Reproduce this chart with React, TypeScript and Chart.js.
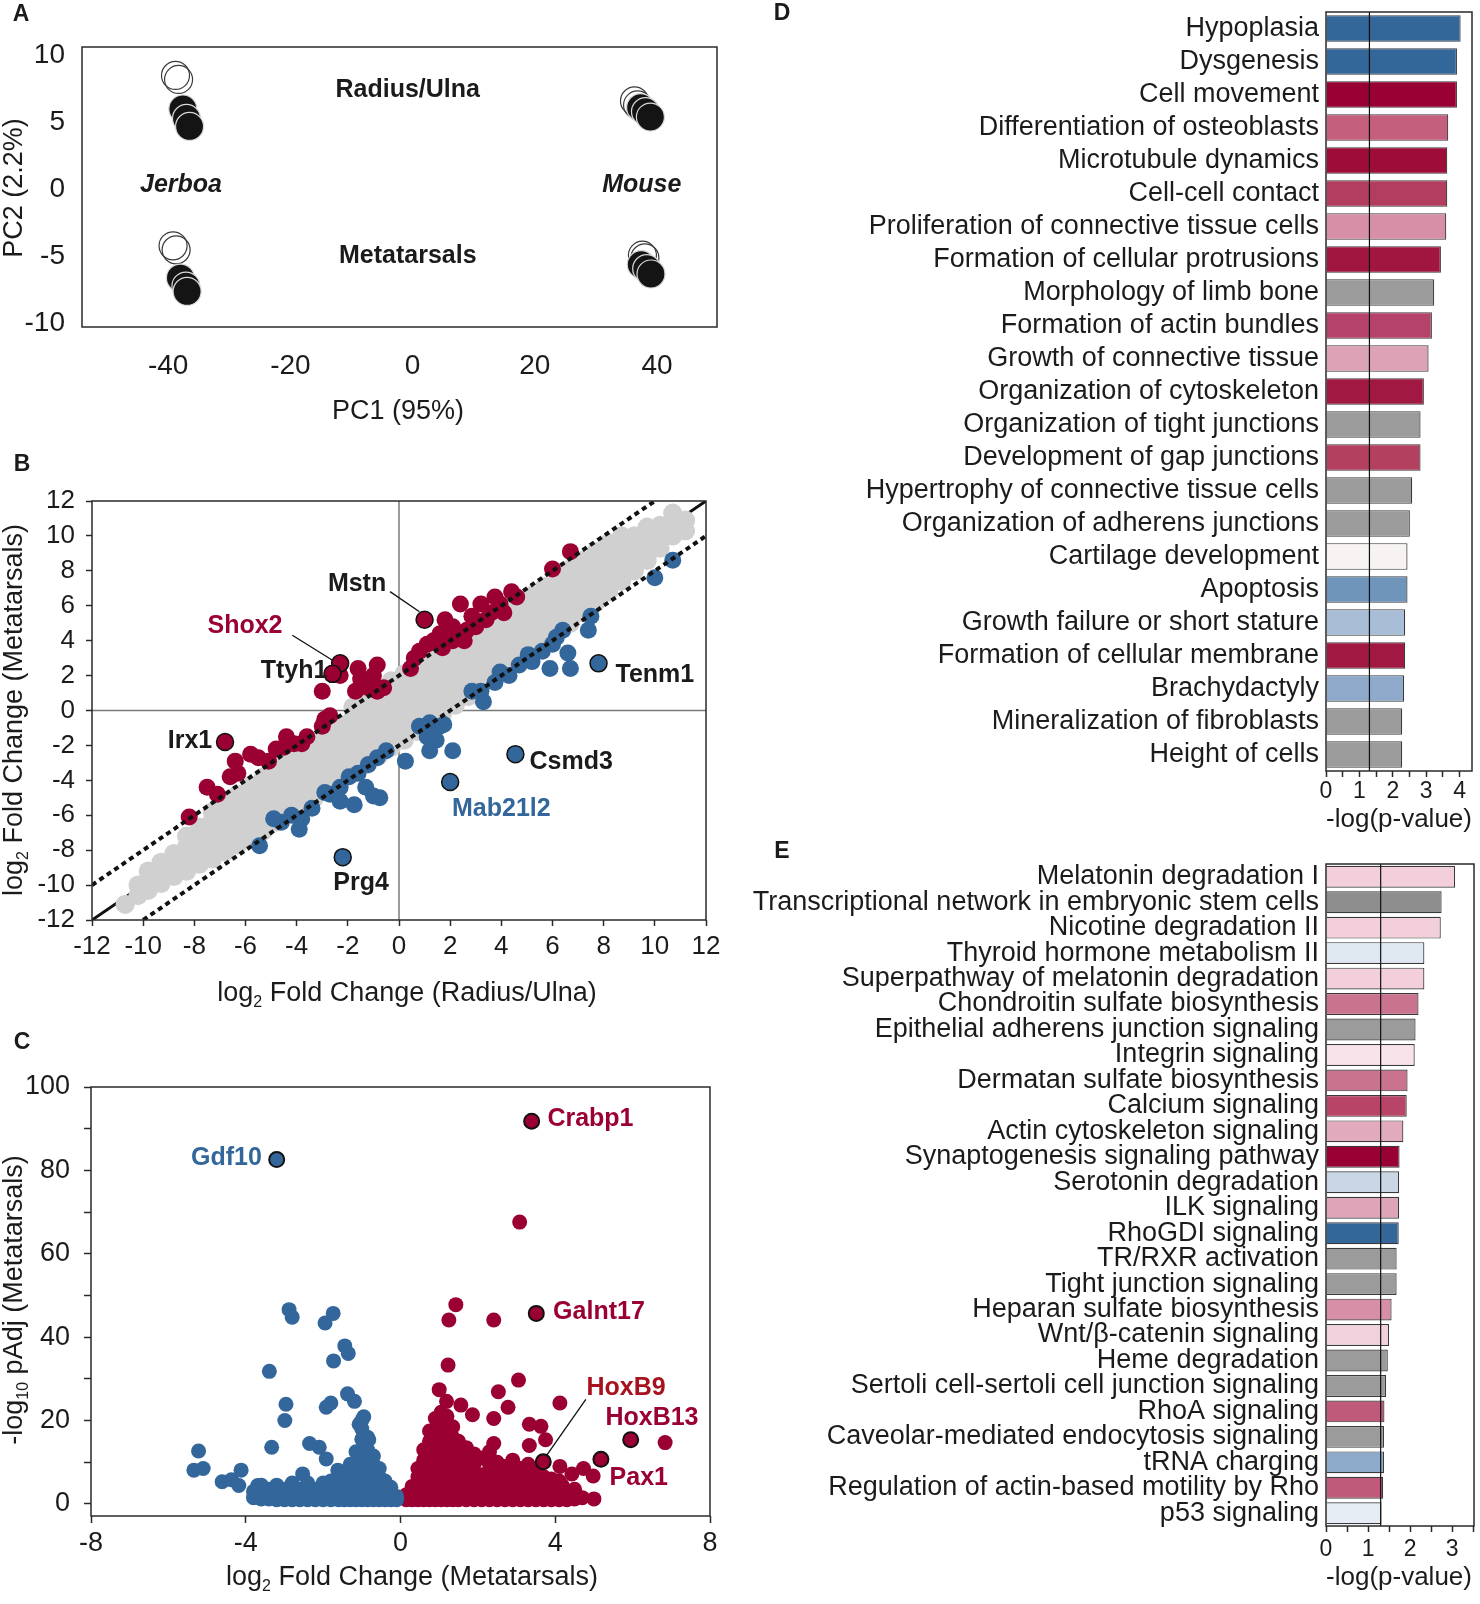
import React, { useEffect, useRef } from 'react';
import { Chart, registerables } from 'chart.js';

Chart.register(...registerables);

// ---------------- Panel A : PCA ----------------
const pcaOpen = [
  [-38.8, 8.5], [-38.3, 8.2],
  [36.3, 6.6], [36.8, 6.3],
  [-39.2, -4.2], [-38.7, -4.5],
  [37.6, -4.9], [38.0, -5.1],
];
const pcaFilled = [
  [-37.6, 6.0], [-37.0, 5.3], [-36.5, 4.7],
  [37.3, 6.1], [38.1, 5.8], [38.9, 5.4],
  [-38.0, -6.6], [-37.1, -7.2], [-36.9, -7.6],
  [37.4, -5.6], [38.3, -5.9], [39.0, -6.3],
];
const pcaTicksX = [-40, -20, 0, 20, 40];
const pcaTicksY = [-10, -5, 0, 5, 10];
const pcaTexts = [
  { text: 'Radius/Ulna', x: -0.8, y: 7.4, italic: false },
  { text: 'Jerboa', x: -37.9, y: 0.3, italic: true },
  { text: 'Mouse', x: 37.5, y: 0.3, italic: true },
  { text: 'Metatarsals', x: -0.8, y: -5.0, italic: false },
];

// ---------------- Panel B : log2FC vs log2FC ----------------
const bTicks = [-12, -10, -8, -6, -4, -2, 0, 2, 4, 6, 8, 10, 12];
const bGrayCols: [number, number[]][] = [
  [-10.7, [-11.1]],
  [-10.2, [-10.6, -10.0]],
  [-9.8, [-10.3, -9.7, -9.2]],
  [-9.3, [-9.9, -9.3, -8.7]],
  [-8.8, [-9.5, -8.9, -8.2]],
  [-8.3, [-9.2, -8.5, -7.8, -7.2]],
  [-7.8, [-8.8, -8.1, -7.4, -6.7]],
  [-7.3, [-8.5, -7.8, -7.0, -6.3, -5.8]],
  [-6.8, [-8.1, -7.4, -6.6, -5.9, -5.3]],
  [-6.3, [-7.7, -7.0, -6.2, -5.5, -4.8]],
  [-5.8, [-7.3, -6.6, -5.8, -5.0, -4.3]],
  [-5.3, [-6.9, -6.1, -5.3, -4.5, -3.8]],
  [-4.8, [-6.4, -5.6, -4.8, -4.0, -3.3]],
  [-4.3, [-5.9, -5.1, -4.3, -3.5, -2.8]],
  [-3.8, [-5.4, -4.6, -3.8, -3.0, -2.3]],
  [-3.3, [-5.0, -4.2, -3.4, -2.6, -1.8]],
  [-2.8, [-4.5, -3.7, -2.9, -2.1, -1.3]],
  [-2.3, [-4.0, -3.2, -2.4, -1.6, -0.8]],
  [-1.8, [-3.6, -2.8, -2.0, -1.2, -0.4, 0.2]],
  [-1.3, [-3.1, -2.3, -1.5, -0.7, 0.1, 0.7]],
  [-0.8, [-2.6, -1.8, -1.0, -0.2, 0.6, 1.2]],
  [-0.3, [-2.1, -1.3, -0.5, 0.3, 1.1, 1.7]],
  [0.2, [-1.7, -0.9, -0.1, 0.7, 1.5, 2.1]],
  [0.7, [-1.2, -0.4, 0.4, 1.2, 2.0, 2.5]],
  [1.2, [-0.7, 0.1, 0.9, 1.7, 2.5, 3.0]],
  [1.7, [-0.2, 0.6, 1.4, 2.2, 3.0, 3.5]],
  [2.2, [0.3, 1.1, 1.9, 2.7, 3.5, 4.0]],
  [2.7, [0.8, 1.6, 2.4, 3.2, 4.0, 4.5]],
  [3.2, [1.3, 2.1, 2.9, 3.7, 4.5, 5.0]],
  [3.7, [1.8, 2.6, 3.4, 4.2, 5.0, 5.5]],
  [4.2, [2.4, 3.2, 4.0, 4.8, 5.6]],
  [4.7, [2.9, 3.7, 4.5, 5.3, 6.1]],
  [5.2, [3.4, 4.2, 5.0, 5.8, 6.6]],
  [5.7, [3.9, 4.7, 5.5, 6.3, 7.1]],
  [6.2, [4.5, 5.3, 6.1, 6.9, 7.6]],
  [6.7, [5.0, 5.8, 6.6, 7.4, 8.1]],
  [7.2, [5.6, 6.4, 7.2, 8.0, 8.6]],
  [7.7, [6.2, 7.0, 7.8, 8.5, 9.1]],
  [8.2, [6.8, 7.6, 8.3, 9.0, 9.6]],
  [8.7, [7.4, 8.1, 8.8, 9.5, 10.0]],
  [9.2, [8.0, 8.7, 9.4, 10.0]],
  [9.7, [8.6, 9.3, 10.0, 10.5]],
  [10.2, [9.3, 10.0, 10.6]],
  [10.7, [10.0, 10.7, 11.3]],
  [11.2, [10.3, 10.9]],
];
const bRed = [
  [-8.2, -6.1], [-7.5, -4.4], [-7.1, -4.8], [-6.6, -3.8], [-6.4, -2.9], [-6.3, -3.6], [-5.8, -2.5],
  [-5.5, -2.7], [-5.1, -2.9], [-4.8, -2.2], [-4.5, -2.1], [-4.4, -1.5], [-4.1, -1.9], [-3.8, -1.9],
  [-3.6, -1.5], [-3.0, -0.9], [-2.9, -0.5], [-2.7, -0.3], [-3.0, 1.1], [-2.3, 2.0], [-1.6, 2.4],
  [-1.5, 1.8], [-1.7, 1.1], [-1.2, 1.3], [-1.0, 2.0], [-0.85, 2.6], [-0.85, 1.1], [-0.6, 1.3],
  [0.45, 2.4], [0.6, 3.0], [0.8, 3.4], [1.1, 3.8], [1.35, 4.0], [1.6, 4.4], [1.7, 3.6], [1.8, 5.2],
  [1.9, 4.4], [2.1, 4.8], [2.1, 4.0], [2.4, 6.1], [2.55, 4.0], [2.65, 4.6], [2.85, 5.4], [3.0, 4.8],
  [3.2, 6.1], [3.4, 5.2], [3.6, 5.6], [3.75, 6.5], [3.95, 6.1], [4.1, 5.6], [4.4, 6.8], [4.6, 6.5],
  [6.0, 8.1], [6.7, 9.1],
];
const bBlue = [
  [10.7, 8.6], [10.0, 7.6], [7.5, 5.4], [7.4, 4.6], [6.7, 2.4], [6.6, 3.3], [6.4, 4.6], [6.15, 4.2],
  [6.0, 3.8], [5.9, 2.4], [5.6, 3.4], [5.2, 2.8], [5.05, 3.2], [4.7, 2.6], [4.3, 2.0], [3.95, 2.2],
  [3.75, 1.6], [3.3, 0.5], [3.2, 1.1], [2.85, 1.1],
  [1.2, -0.7], [0.8, -0.9], [1.6, -0.9], [1.75, -0.8], [1.1, -1.5], [1.45, -1.7], [1.2, -2.3],
  [2.1, -2.3], [0.25, -2.9],
  [-0.5, -2.3], [-0.85, -2.7], [-1.2, -3.1], [-1.6, -3.6], [-1.95, -3.8], [-2.3, -4.4], [-2.7, -4.8],
  [-2.9, -4.7], [-2.3, -5.2], [-1.75, -5.4], [-1.0, -4.9], [-0.75, -5.0], [-1.3, -4.4], [-3.4, -5.6],
  [-3.8, -6.2], [-3.9, -6.8], [-4.2, -6.0], [-4.6, -6.4], [-4.9, -6.2], [-5.45, -7.75],
];
const bKeyGenes = [
  { name: 'Mstn', x: 1.0, y: 5.2, up: true },
  { name: 'Shox2', x: -2.3, y: 2.7, up: true },
  { name: 'Ttyh1', x: -2.6, y: 2.1, up: true },
  { name: 'Irx1', x: -6.8, y: -1.8, up: true },
  { name: 'Tenm1', x: 7.8, y: 2.7, up: false },
  { name: 'Csmd3', x: 4.55, y: -2.5, up: false },
  { name: 'Mab21l2', x: 2.0, y: -4.1, up: false },
  { name: 'Prg4', x: -2.2, y: -8.4, up: false },
];
const bTexts = [
  { text: 'Mstn', x: -1.64, y: 7.25, color: 'ink' },
  { text: 'Shox2', x: -6.02, y: 4.84, color: 'red' },
  { text: 'Ttyh1', x: -4.1, y: 2.26, color: 'ink' },
  { text: 'Tenm1', x: 10.0, y: 2.03, color: 'ink' },
  { text: 'Irx1', x: -8.17, y: -1.75, color: 'ink' },
  { text: 'Csmd3', x: 6.73, y: -2.95, color: 'ink' },
  { text: 'Mab21l2', x: 4.0, y: -5.64, color: 'blue' },
  { text: 'Prg4', x: -1.48, y: -9.88, color: 'ink' },
];
const bDiag = [[-12, -12], [12, 12]];
const bUpper = [[-12, -10], [10, 12]];
const bLower = [[-10, -12], [12, 10]];
const bZeroV = [[0, -12], [0, 12]];
const bZeroH = [[-12, 0], [12, 0]];
const bLeaderMstn = [[-0.35, 6.81], [0.8, 5.66]];
const bLeaderShox2 = [[-4.17, 4.31], [-2.6, 2.88]];

// ---------------- Panel C : volcano ----------------
const cTicksX = [-8, -4, 0, 4, 8];
const cTicksY = [0, 10, 20, 30, 40, 50, 60, 70, 80, 90, 100];
const cBlueCols: [number, number[]][] = [
  [-0.1, [1, 1.8]],
  [-0.25, [1, 2.5, 4]],
  [-0.4, [1, 3, 5.5]],
  [-0.55, [1, 3.5, 6.5, 8.5]],
  [-0.7, [1, 3.5, 6.5, 9.5, 11.5]],
  [-0.85, [1, 4, 7, 10, 13, 16]],
  [-1.0, [1, 3.5, 6.5, 9.5, 12.5, 15.5, 18, 20]],
  [-1.15, [1, 4, 7, 10, 12.5]],
  [-1.3, [1, 3.5, 6.5, 9.5]],
  [-1.45, [1, 4, 7]],
  [-1.6, [1, 3.5, 6]],
  [-1.8, [1, 3.5, 5.5]],
  [-2.0, [1, 3.2, 5]],
  [-2.2, [1, 3.5]],
  [-2.4, [1, 3, 5]],
  [-2.6, [1, 3.5]],
  [-2.8, [1, 3, 5]],
  [-3.0, [1, 3.5]],
  [-3.2, [1, 3, 4.5]],
  [-3.4, [1.2, 3.5]],
  [-3.6, [1.2, 2.8, 4.5]],
  [-3.8, [1.5, 3]],
];
const cBlueOut = [
  [-2.88, 46.6], [-2.8, 44.8], [-1.74, 45.7], [-1.95, 43.4], [-1.44, 37.9], [-1.35, 36.1], [-1.73, 34.3],
  [-3.39, 31.8], [-2.96, 23.9], [-2.99, 20.0], [-1.92, 23.2], [-1.8, 24.2], [-1.37, 26.4], [-1.19, 24.6],
  [-0.95, 20.9], [-1.07, 19.1], [-3.33, 13.6], [-2.35, 14.5], [-2.1, 13.6], [-1.92, 10.8], [-5.22, 12.7],
  [-5.34, 8.1], [-5.1, 8.5], [-4.61, 5.3], [-4.37, 5.8], [-4.18, 4.4], [-4.12, 8.1], [-3.69, 4.4],
  [-2.53, 7.2], [-1.62, 8.1], [-0.89, 9.9], [-0.82, 15.4], [-0.95, 14.5],
];
const cRedCols: [number, number[]][] = [
  [0.15, [1, 2.2]],
  [0.3, [1, 2.5, 4.2]],
  [0.45, [1, 2.6, 4.5, 6.5, 8.5]],
  [0.6, [1, 3, 5.5, 8, 10.5, 13]],
  [0.75, [1, 3.5, 6, 9, 12, 15, 17.5]],
  [0.9, [1, 3, 5.5, 8.5, 11.5, 14.5, 17.5, 20.5]],
  [1.05, [1, 4, 7, 10, 13, 16, 19, 22]],
  [1.2, [1, 3.5, 6.5, 9.5, 12.5, 15.5, 18.5, 21]],
  [1.35, [1, 4, 7, 10, 13, 16, 18.5]],
  [1.5, [1, 3.5, 6.5, 9.5, 12.5, 15]],
  [1.7, [1, 4, 7, 10, 13.5]],
  [1.9, [1, 3.5, 6.5, 9.5, 12]],
  [2.1, [1, 4, 7, 11]],
  [2.3, [1, 3.5, 6.5, 9.5, 12.5]],
  [2.5, [1, 4, 7, 10]],
  [2.7, [1, 3.5, 6.5, 9]],
  [2.9, [1, 4, 7, 10.5]],
  [3.1, [1, 3.5, 6, 8.5]],
  [3.3, [1, 4, 7, 9.5]],
  [3.5, [1, 3.5, 6, 8]],
  [3.7, [1, 4, 6.5]],
  [3.9, [1, 3.5, 6]],
  [4.1, [1, 3.5, 5.5]],
  [4.3, [1, 3]],
  [4.5, [1.2, 3.5]],
  [4.7, [1.5]],
  [5.0, [1.2]],
];
const cRedOut = [
  [3.08, 67.6], [1.43, 47.8], [1.25, 44.1], [2.41, 44.1], [1.23, 33.3], [3.05, 29.7], [1.0, 27.4],
  [1.19, 24.6], [1.56, 23.7], [2.53, 26.9], [2.78, 23.2], [4.12, 24.2], [1.86, 21.4], [2.41, 20.5],
  [3.33, 19.1], [3.63, 18.6], [3.75, 15.4], [3.33, 14.0], [2.41, 14.5], [6.84, 14.7], [4.73, 8.5],
  [4.98, 6.7], [4.12, 9.0], [4.43, 7.2], [4.18, 4.4],
];
const cKeyGenes = [
  { name: 'Gdf10', x: -3.2, y: 82.6, up: false },
  { name: 'Crabp1', x: 3.39, y: 91.8, up: true },
  { name: 'Galnt17', x: 3.51, y: 45.7, up: true },
  { name: 'HoxB9', x: 3.69, y: 10.1, up: true },
  { name: 'Pax1', x: 5.18, y: 10.7, up: true },
  { name: 'HoxB13', x: 5.95, y: 15.4, up: true },
];
const cTexts = [
  { text: 'Gdf10', x: -4.5, y: 83.0, color: 'blue' },
  { text: 'Crabp1', x: 4.91, y: 92.3, color: 'red' },
  { text: 'Galnt17', x: 5.13, y: 45.9, color: 'red' },
  { text: 'HoxB9', x: 5.83, y: 27.8, color: 'red2' },
  { text: 'HoxB13', x: 6.5, y: 20.5, color: 'red' },
  { text: 'Pax1', x: 6.16, y: 6.2, color: 'red' },
];
const cLeaderHoxB9 = [[4.79, 25.1], [3.75, 11.3]];

// ---------------- Panel D : functions ----------------
const dLabels = [
  'Hypoplasia', 'Dysgenesis', 'Cell movement', 'Differentiation of osteoblasts', 'Microtubule dynamics',
  'Cell-cell contact', 'Proliferation of connective tissue cells', 'Formation of cellular protrusions',
  'Morphology of limb bone', 'Formation of actin bundles', 'Growth of connective tissue',
  'Organization of cytoskeleton', 'Organization of tight junctions', 'Development of gap junctions',
  'Hypertrophy of connective tissue cells', 'Organization of adherens junctions', 'Cartilage development',
  'Apoptosis', 'Growth failure or short stature', 'Formation of cellular membrane', 'Brachydactyly',
  'Mineralization of fibroblasts', 'Height of cells',
];
const dValues = [4.03, 3.92, 3.92, 3.66, 3.63, 3.63, 3.6, 3.44, 3.24, 3.17, 3.07, 2.93, 2.83, 2.83, 2.58, 2.51, 2.44, 2.44, 2.37, 2.37, 2.34, 2.28, 2.28];
const dColors = [
  '#336699', '#336699', '#990033', '#c4607e', '#9e0d3a', '#b23d5f', '#d68fa6', '#a01640', '#9b9b9b',
  '#b5426a', '#dba3b5', '#a11842', '#9b9b9b', '#b3405f', '#9b9b9b', '#9b9b9b', '#f7f3f3', '#7095bb',
  '#a8bdd6', '#a11842', '#8ea9ca', '#9b9b9b', '#9b9b9b',
];
const dTicks = [0, 0.5, 1, 1.5, 2, 2.5, 3, 3.5, 4];

// ---------------- Panel E : pathways ----------------
const eLabels = [
  'Melatonin degradation I', 'Transcriptional network in embryonic stem cells', 'Nicotine degradation II',
  'Thyroid hormone metabolism II', 'Superpathway of melatonin degradation', 'Chondroitin sulfate biosynthesis',
  'Epithelial adherens junction signaling', 'Integrin signaling', 'Dermatan sulfate biosynthesis',
  'Calcium signaling', 'Actin cytoskeleton signaling', 'Synaptogenesis signaling pathway',
  'Serotonin degradation', 'ILK signaling', 'RhoGDI signaling', 'TR/RXR activation', 'Tight junction signaling',
  'Heparan sulfate biosynthesis', 'Wnt/β-catenin signaling', 'Heme degradation',
  'Sertoli cell-sertoli cell junction signaling', 'RhoA signaling', 'Caveolar-mediated endocytosis signaling',
  'tRNA charging', 'Regulation of actin-based motility by Rho', 'p53 signaling',
];
const eValues = [3.07, 2.75, 2.73, 2.34, 2.34, 2.2, 2.13, 2.11, 1.94, 1.92, 1.84, 1.75, 1.74, 1.74, 1.73, 1.68, 1.68, 1.56, 1.5, 1.47, 1.43, 1.39, 1.38, 1.38, 1.36, 1.32];
const eColors = [
  '#f2cfdb', '#8e8e8e', '#f2cfdb', '#dfe7f1', '#f2cfdb', '#c9738f', '#9b9b9b', '#f8e3ea', '#c9738f',
  '#b84468', '#e2abbd', '#990033', '#c8d6e6', '#dea4b7', '#336699', '#9b9b9b', '#9b9b9b', '#d68fa6',
  '#f1d2dc', '#9b9b9b', '#9b9b9b', '#c05a7b', '#9b9b9b', '#8eaacb', '#c05a7b', '#e5ecf4',
];
const eTicks = [0, 0.5, 1, 1.5, 2, 2.5, 3, 3.5];
const pThreshold = 1.3;

// ---------------- styling ----------------
const INK = '#1b1b1b';
const RED = '#9b0033';
const RED2 = '#a8121f';
const BLUE = '#33669a';
const GRAY = '#d0d0d0';
const colorOf = (c: string) => (c === 'red' ? RED : c === 'red2' ? RED2 : c === 'blue' ? BLUE : INK);

function detectNarrow(): boolean {
  try {
    const ctx = document.createElement('canvas').getContext('2d');
    if (!ctx) return false;
    const s = 'Proliferation of connective tissue 0123456789';
    ctx.font = '40px monospace';
    const a = ctx.measureText(s).width;
    ctx.font = '40px "Liberation Sans Narrow", monospace';
    const b = ctx.measureText(s).width;
    return Math.abs(a - b) > 1;
  } catch (e) {
    return false;
  }
}
const NARROW = detectNarrow();
const FAM = NARROW
  ? '"Liberation Sans Narrow", "Liberation Sans", Arial, sans-serif'
  : '"Liberation Sans", Arial, sans-serif';
const S = (n: number) => (NARROW ? n : Math.round(n * 0.82));

Chart.defaults.font.family = FAM;
Chart.defaults.color = INK;

const toXY = (arr: number[][]) => arr.map(([x, y]) => ({ x, y }));
const colsToXY = (cols: [number, number[]][]) => cols.flatMap(([x, ys]) => ys.map((y) => ({ x, y })));

function drawRich(ctx: any, parts: any[], cx: number, cy: number, size: number, rot: boolean) {
  ctx.save();
  ctx.translate(cx, cy);
  if (rot) ctx.rotate(-Math.PI / 2);
  const main = `${size}px ${FAM}`;
  const sub = `${Math.round(size * 0.6)}px ${FAM}`;
  const widths = parts.map((p) => {
    ctx.font = p.sub ? sub : main;
    return ctx.measureText(p.t).width;
  });
  const total = widths.reduce((a: number, b: number) => a + b, 0);
  let x = -total / 2;
  ctx.textAlign = 'left';
  ctx.textBaseline = 'middle';
  ctx.fillStyle = INK;
  parts.forEach((p, i) => {
    ctx.font = p.sub ? sub : main;
    ctx.fillText(p.t, x, p.sub ? size * 0.32 : 0);
    x += widths[i];
  });
  ctx.restore();
}

function deco(o: any) {
  return {
    id: 'deco',
    afterDatasetsDraw(chart: any) {
      const { ctx, chartArea: ca, scales } = chart;
      if (o.vline !== undefined) {
        const px = scales.x.getPixelForValue(o.vline);
        ctx.save();
        ctx.strokeStyle = '#111';
        ctx.lineWidth = 1.2;
        ctx.beginPath();
        ctx.moveTo(px, ca.top);
        ctx.lineTo(px, ca.bottom);
        ctx.stroke();
        ctx.restore();
      }
      (o.texts || []).forEach((t: any) => {
        ctx.save();
        ctx.font = `${t.italic ? 'italic ' : ''}bold ${S(30)}px ${FAM}`;
        ctx.fillStyle = colorOf(t.color || 'ink');
        ctx.textAlign = 'center';
        ctx.textBaseline = 'middle';
        ctx.fillText(t.text, scales.x.getPixelForValue(t.x), scales.y.getPixelForValue(t.y));
        ctx.restore();
      });
    },
    afterDraw(chart: any) {
      const { ctx, chartArea: ca } = chart;
      ctx.save();
      ctx.strokeStyle = '#2a2a2a';
      ctx.lineWidth = 1.5;
      ctx.strokeRect(ca.left, ca.top, ca.right - ca.left, ca.bottom - ca.top);
      ctx.restore();
      (o.titles || []).forEach((t: any) => drawRich(ctx, t.parts, t.x, t.y, S(t.size), !!t.rot));
      if (o.letter) {
        ctx.save();
        ctx.font = 'bold 23px "Liberation Sans", Arial, sans-serif';
        ctx.fillStyle = INK;
        ctx.textAlign = 'center';
        ctx.textBaseline = 'middle';
        ctx.fillText(o.letter[0], o.letter[1], o.letter[2]);
        ctx.restore();
      }
    },
  };
}

function linScale(p: {
  axis: 'x' | 'y'; min: number; max: number; ticks: number[]; size: number; fit: number;
  tickLen: number; pad: number; label?: (v: number) => string;
}) {
  return {
    type: 'linear',
    min: p.min,
    max: p.max,
    afterBuildTicks: (s: any) => {
      s.ticks = p.ticks.map((v) => ({ value: v }));
    },
    ticks: {
      autoSkip: false,
      maxRotation: 0,
      minRotation: 0,
      padding: p.pad,
      color: INK,
      font: { size: S(p.size), family: FAM },
      callback: (v: any) => (p.label ? p.label(Number(v)) : String(v)),
    },
    grid: p.tickLen > 0
      ? { display: true, drawOnChartArea: false, drawTicks: true, tickLength: p.tickLen, tickColor: '#2a2a2a', tickWidth: 1.5, color: '#2a2a2a' }
      : { display: false, drawTicks: false, tickLength: 0 },
    border: { display: false },
    afterFit: (s: any) => {
      if (p.axis === 'x') s.height = p.fit;
      else s.width = p.fit;
      s.paddingLeft = 0; s.paddingRight = 0; s.paddingTop = 0; s.paddingBottom = 0;
    },
  };
}
// vertical offset of the label centre below the axis -> ticks.padding
const xPad = (offset: number, tl: number, size: number) => Math.round(offset - tl - S(size) * 0.6);

const base = (padding: any) => ({
  responsive: false,
  animation: false,
  events: [],
  layout: { padding },
  plugins: { legend: { display: false }, tooltip: { enabled: false } },
});

const lineDs = (pts: number[][], color: string, width: number, order: number, dash?: number[]) => ({
  data: toXY(pts), showLine: true, pointRadius: 0, pointHoverRadius: 0, borderColor: color,
  borderWidth: width, borderDash: dash || [], fill: false, order, borderCapStyle: 'butt',
});
const ptsDs = (data: any[], fill: any, r: number, order: number, border?: any, bw?: number) => ({
  data, pointRadius: r, pointHoverRadius: r, pointBackgroundColor: fill,
  pointBorderColor: border || 'rgba(0,0,0,0)', pointBorderWidth: bw || 0, order, showLine: false,
});

function makeA() {
  return {
    type: 'scatter',
    data: {
      datasets: [
        ptsDs(toXY(pcaOpen), 'rgba(255,255,255,0)', 14, 2, '#3a3a3a', 1.2),
        ptsDs(toXY(pcaFilled), '#141414', 14, 1, '#d9d9d9', 1.2),
      ],
    },
    options: {
      ...base({ left: 0, top: 47, right: 23, bottom: 0 }),
      scales: {
        x: linScale({ axis: 'x', min: -54.1, max: 49.8, ticks: pcaTicksX, size: 34, fit: 113, tickLen: 0, pad: xPad(39, 0, 34) }),
        y: linScale({ axis: 'y', min: -10.25, max: 10.62, ticks: pcaTicksY, size: 34, fit: 82, tickLen: 0, pad: 17 }),
      },
    },
    plugins: [deco({
      texts: pcaTexts,
      letter: ['A', 21, 15],
      titles: [
        { parts: [{ t: 'PC1 (95%)' }], x: 398, y: 412, size: 33 },
        { parts: [{ t: 'PC2 (2.2%)' }], x: 15, y: 188, size: 33, rot: true },
      ],
    })],
  };
}

function makeB() {
  const key = bKeyGenes.map((g) => ({ x: g.x, y: g.y }));
  const keyCol = bKeyGenes.map((g) => (g.up ? RED : BLUE));
  return {
    type: 'scatter',
    data: {
      datasets: [
        lineDs(bDiag, '#111', 3, 5),
        lineDs(bZeroV, '#7a7a7a', 1.5, 5),
        lineDs(bZeroH, '#7a7a7a', 1.5, 5),
        ptsDs(colsToXY(bGrayCols), GRAY, 9.6, 4),
        ptsDs(toXY(bRed), RED, 8.5, 3),
        ptsDs(toXY(bBlue), BLUE, 8.5, 3),
        lineDs(bUpper, '#111', 4, 1, [5, 4]),
        lineDs(bLower, '#111', 4, 1, [5, 4]),
        ptsDs(key, keyCol, 8.5, 0, '#111', 1.5),
        lineDs(bLeaderMstn, '#111', 1.3, 0),
        lineDs(bLeaderShox2, '#111', 1.3, 0),
      ],
    },
    options: {
      ...base({ left: 0, top: 61, right: 34, bottom: 0 }),
      scales: {
        x: linScale({ axis: 'x', min: -12, max: 12, ticks: bTicks, size: 32, fit: 100, tickLen: 6, pad: xPad(27, 6, 32) }),
        y: linScale({ axis: 'y', min: -12, max: 12, ticks: bTicks, size: 32, fit: 92, tickLen: 6, pad: 11 }),
      },
    },
    plugins: [deco({
      texts: bTexts,
      letter: ['B', 22, 25],
      titles: [
        { parts: [{ t: 'log' }, { t: '2', sub: true }, { t: ' Fold Change (Radius/Ulna)' }], x: 407, y: 554, size: 33 },
        { parts: [{ t: 'log' }, { t: '2', sub: true }, { t: ' Fold Change (Metatarsals)' }], x: 15, y: 270, size: 33, rot: true },
      ],
    })],
  };
}

function makeC() {
  const key = cKeyGenes.map((g) => ({ x: g.x, y: g.y }));
  const keyCol = cKeyGenes.map((g) => (g.up ? RED : BLUE));
  return {
    type: 'scatter',
    data: {
      datasets: [
        ptsDs(colsToXY(cBlueCols), BLUE, 7.5, 2),
        ptsDs(toXY(cBlueOut), BLUE, 7.5, 2),
        ptsDs(colsToXY(cRedCols), RED, 7.5, 2),
        ptsDs(toXY(cRedOut), RED, 7.5, 2),
        lineDs(cLeaderHoxB9, '#111', 1.3, 1),
        ptsDs(key, keyCol, 7.5, 0, '#111', 2),
      ],
    },
    options: {
      ...base({ left: 0, top: 67, right: 30, bottom: 0 }),
      scales: {
        x: linScale({ axis: 'x', min: -8, max: 8, ticks: cTicksX, size: 33, fit: 88, tickLen: 7, pad: xPad(27, 7, 33) }),
        y: linScale({
          axis: 'y', min: -2.9, max: 100, ticks: cTicksY, size: 33, fit: 91, tickLen: 7, pad: 14,
          label: (v) => (v % 20 === 0 ? String(v) : ''),
        }),
      },
    },
    plugins: [deco({
      texts: cTexts,
      letter: ['C', 22, 23],
      titles: [
        { parts: [{ t: 'log' }, { t: '2', sub: true }, { t: ' Fold Change (Metatarsals)' }], x: 412, y: 558, size: 33 },
        { parts: [{ t: '-log' }, { t: '10', sub: true }, { t: ' pAdj (Metatarsals)' }], x: 15, y: 280, size: 33, rot: true },
      ],
    })],
  };
}

// bar panels: canvas starts at page x 700, category axis 626 px wide -> plot starts at page x 1326
function makeBars(labels: string[], values: number[], colors: string[], p: any) {
  return {
    type: 'bar',
    data: {
      labels,
      datasets: [{
        data: values, backgroundColor: colors, borderColor: '#3a3a3a', borderWidth: 1.2,
        barPercentage: p.barPct, categoryPercentage: 1,
      }],
    },
    options: {
      ...base({ left: 0, top: p.top, right: p.right, bottom: 0 }),
      indexAxis: 'y',
      scales: {
        x: linScale({
          axis: 'x', min: 0, max: p.max, ticks: p.ticks, size: 28, fit: p.xFit, tickLen: 6, pad: xPad(p.labOff, 6, 28),
          label: (v) => (Number.isInteger(v) ? String(v) : ''),
        }),
        y: {
          type: 'category',
          ticks: { autoSkip: false, padding: 7, color: INK, font: { size: S(33.5), family: FAM } },
          grid: { display: false, drawTicks: false, tickLength: 0 },
          border: { display: false },
          afterFit: (s: any) => {
            s.width = 626;
            s.paddingLeft = 0; s.paddingRight = 0; s.paddingTop = 0; s.paddingBottom = 0;
          },
        },
      },
    },
    plugins: [deco({
      vline: pThreshold,
      letter: p.letter,
      titles: [{ parts: [{ t: '-log(p-value)' }], x: 699, y: p.titleY, size: 32 }],
    })],
  };
}

function Panel({ x, y, w, h, make }: { x: number; y: number; w: number; h: number; make: () => any }) {
  const ref = useRef<HTMLCanvasElement>(null);
  useEffect(() => {
    const chart = new Chart(ref.current as HTMLCanvasElement, make());
    return () => chart.destroy();
  }, []);
  return (
    <div style={{ position: 'absolute', left: x, top: y, width: w, height: h }}>
      <canvas ref={ref} width={w} height={h} style={{ width: w, height: h, display: 'block' }} />
    </div>
  );
}

export default function App() {
  return (
    <div style={{ position: 'absolute', left: 0, top: 0, width: 1480, height: 1604, background: '#fff', overflow: 'hidden' }}>
      <Panel x={0} y={0} w={740} h={440} make={makeA} />
      <Panel x={0} y={440} w={740} h={580} make={makeB} />
      <Panel x={0} y={1020} w={740} h={584} make={makeC} />
      <Panel
        x={700} y={0} w={780} h={840}
        make={() => makeBars(dLabels, dValues, dColors, {
          barPct: 0.81, top: 12, right: 8, max: 4.37, ticks: dTicks, xFit: 69, labOff: 21, titleY: 820,
          letter: ['D', 82, 14],
        })}
      />
      <Panel
        x={700} y={840} w={780} h={764}
        make={() => makeBars(eLabels, eValues, eColors, {
          barPct: 0.86, top: 24, right: 6, max: 3.52, ticks: eTicks, xFit: 78, labOff: 24, titleY: 738,
          letter: ['E', 82, 12],
        })}
      />
    </div>
  );
}
